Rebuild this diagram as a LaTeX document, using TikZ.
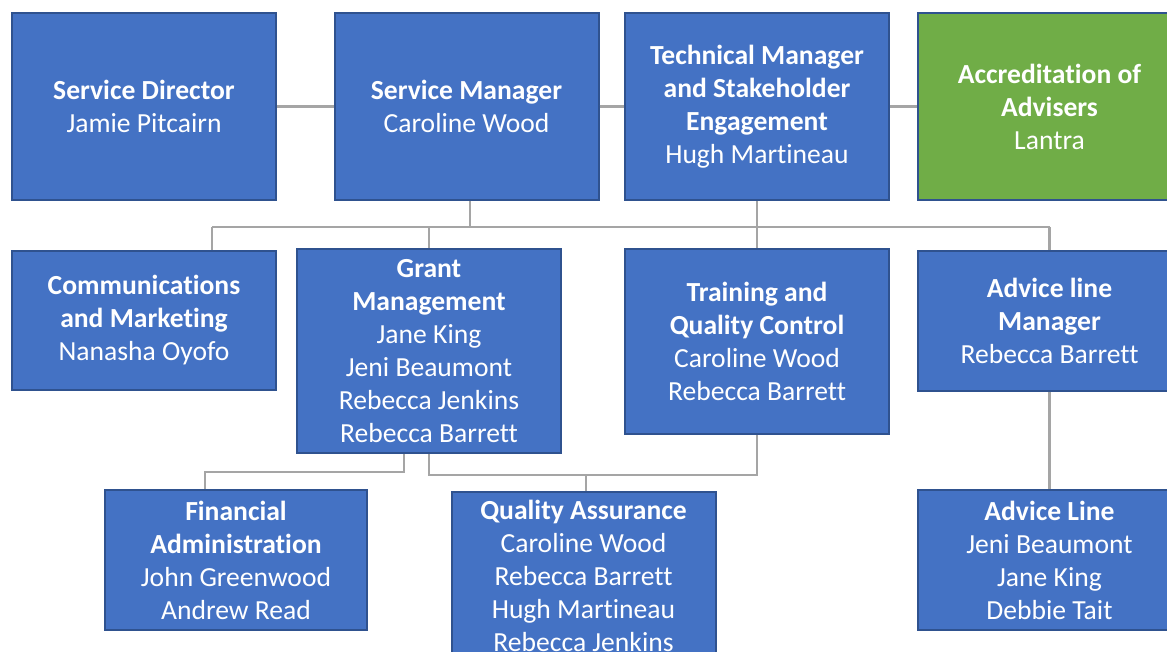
\documentclass[tikz,border=0pt]{standalone}
\usepackage{fontspec}
\setmainfont{Carlito}[Ligatures=NoCommon]
\definecolor{orgblue}{HTML}{4472C4}
\definecolor{orgedge}{HTML}{2F528F}
\definecolor{orggreen}{HTML}{70AD47}
\definecolor{orgline}{HTML}{A5A5A5}
\begin{document}
\begin{tikzpicture}[x=0.5pt,y=-0.5pt,
    orgbox/.style={draw=orgedge,fill=orgblue,line width=1pt,text=white,align=center,
      inner sep=0pt,minimum width=132pt,font=\fontsize{13.8}{16.5}\selectfont},
    link/.style={draw=orgline,line width=1.2pt}]
  \useasboundingbox (0,0) rectangle (1167,652);
  \clip (0,0) rectangle (1167,652);
  % top row
  \node[orgbox,minimum height=93.5pt] (sd) at (144,106.5) {\textbf{Service Director}\\Jamie Pitcairn};
  \node[orgbox,minimum height=93.5pt] (sm) at (466.5,106.5) {\textbf{Service Manager}\\Caroline Wood};
  \node[orgbox,minimum height=93.5pt] (tm) at (757,106.5) {\textbf{Technical Manager}\\\textbf{and Stakeholder}\\\textbf{Engagement}\\Hugh Martineau};
  \node[orgbox,minimum height=93.5pt,fill=orggreen] (ac) at (1049.5,106.5) {\textbf{Accreditation of}\\\textbf{Advisers}\\Lantra};
  % second row
  \node[orgbox,minimum height=69.5pt] (cm) at (144,320.5) {\textbf{Communications}\\\textbf{and Marketing}\\Nanasha Oyofo};
  \node[orgbox,minimum height=102pt] (gm) at (429,351) {\textbf{Grant}\\\textbf{Management}\\Jane King\\Jeni Beaumont\\Rebecca Jenkins\\Rebecca Barrett};
  \node[orgbox,minimum height=92.5pt] (tq) at (757,341.5) {\textbf{Training and}\\\textbf{Quality Control}\\Caroline Wood\\Rebecca Barrett};
  \node[orgbox,minimum height=70pt] (am) at (1049.5,321) {\textbf{Advice line}\\\textbf{Manager}\\Rebecca Barrett};
  % third row
  \node[orgbox,minimum height=70pt,minimum width=131pt] (fa) at (236,560) {\textbf{Financial}\\\textbf{Administration}\\John Greenwood\\Andrew Read};
  \node[orgbox,minimum height=84pt] (qa) at (583.5,576) {\textbf{Quality Assurance}\\Caroline Wood\\Rebecca Barrett\\Hugh Martineau\\Rebecca Jenkins};
  \node[orgbox,minimum height=70pt] (al) at (1049.5,560) {\textbf{Advice Line}\\Jeni Beaumont\\Jane King\\Debbie Tait};
  % connectors
  \coordinate (bus) at (0,227);
  \coordinate (fbus) at (0,472);
  \coordinate (qbus) at (0,475);
  \draw[link] (sd) -- (sm);
  \draw[link] (sm) -- (tm);
  \draw[link] (tm) -- (ac);
  \draw[link] ([xshift=1.75pt]sm.south) -- ([xshift=1.75pt]sm.south |- bus);
  \draw[link] ([xshift=34pt]cm.north |- bus) -- (am.north |- bus);
  \draw[link] ([xshift=34pt]cm.north) -- ([xshift=34pt]cm.north |- bus);
  \draw[link] (gm.north) -- (gm.north |- bus);
  \draw[link] (tm.south) -- (tq.north);
  \draw[link] (am.north) -- (am.north |- bus);
  \draw[link] ([xshift=-12.5pt]gm.south) |- ([xshift=-15.5pt]fa.north |- fbus) -- ([xshift=-15.5pt]fa.north);
  \draw[link] (gm.south) |- (tq.south |- qbus) -- (tq.south);
  \draw[link] ([xshift=1.25pt]qa.north |- qbus) -- ([xshift=1.25pt]qa.north);
  \draw[link] (am) -- (al);
\end{tikzpicture}
\end{document}
